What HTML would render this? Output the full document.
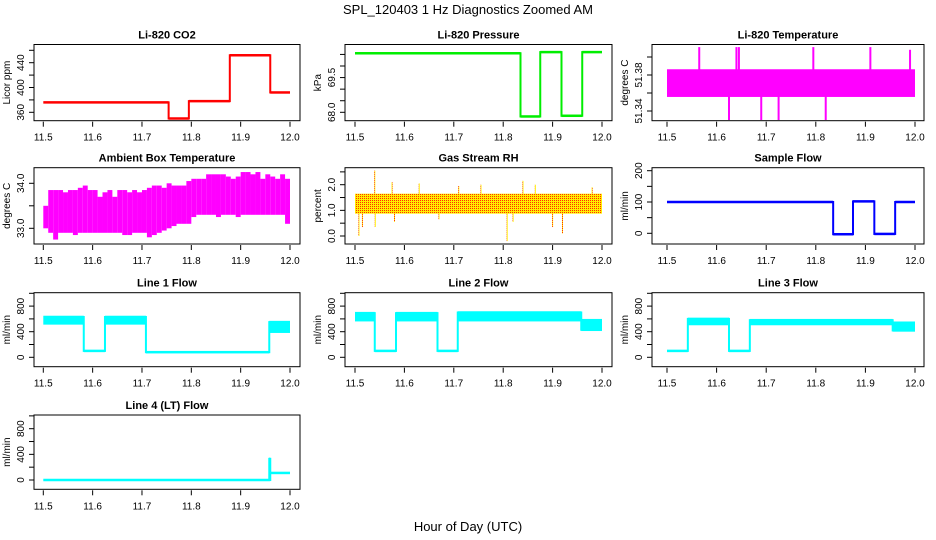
<!DOCTYPE html>
<html><head><meta charset="utf-8"><style>
body{margin:0;background:#fff}
svg{display:block;font-family:"Liberation Sans",sans-serif}
</style></head><body>
<svg id="c" width="936" height="540">
<defs><pattern id="rhpat" width="2" height="2" patternUnits="userSpaceOnUse"><rect width="2" height="2" fill="#ffee00"/><rect width="1" height="1" fill="#ff3000"/></pattern></defs>
<text x="468" y="14" font-size="13" text-anchor="middle">SPL_120403  1 Hz Diagnostics Zoomed AM</text>
<text x="468" y="531" font-size="13" text-anchor="middle">Hour of Day (UTC)</text>
</svg>
<script>
const xTicks=[11.5,11.6,11.7,11.8,11.9,12.0];
// step/band series: start, end, low, high
const co2Start=[11.5,11.754,11.795,11.878,11.96], co2End=[11.754,11.795,11.878,11.96,12.0], co2Lo=[376,350,378,452,392], co2Hi=[376,350,378,452,392];
const presStart=[11.5,11.835,11.875,11.918,11.96], presEnd=[11.835,11.875,11.918,11.96,12.0], presLo=[70.55,67.82,70.6,67.85,70.6], presHi=[70.55,67.82,70.6,67.85,70.6];
const ltStart=[11.5], ltEnd=[12.0], ltLo=[51.357], ltHi=[51.385];
const ltSpikeX=[11.565,11.64,11.645,11.795,11.91,11.99,11.625,11.69,11.725,11.82], ltSpikeV=[51.411,51.411,51.411,51.411,51.411,51.408,51.33,51.33,51.33,51.33];
const ambX=[11.5,11.51,11.52,11.53,11.54,11.55,11.56,11.57,11.58,11.59,11.6,11.61,11.62,11.63,11.64,11.65,11.66,11.67,11.68,11.69,11.7,11.71,11.72,11.73,11.74,11.75,11.76,11.77,11.78,11.79,11.8,11.81,11.82,11.83,11.84,11.85,11.86,11.87,11.88,11.89,11.9,11.91,11.92,11.93,11.94,11.95,11.96,11.97,11.98,11.99];
const ambHi=[33.5,33.85,33.85,33.85,33.8,33.85,33.85,33.9,33.95,33.85,33.85,33.7,33.8,33.85,33.7,33.85,33.85,33.8,33.85,33.8,33.85,33.9,33.95,33.95,33.9,34.0,33.95,33.95,33.95,34.05,34.1,34.1,34.1,34.2,34.2,34.2,34.2,34.15,34.1,34.15,34.25,34.25,34.2,34.25,34.1,34.2,34.15,34.1,34.2,34.1];
const ambLo=[33.0,32.9,32.75,32.9,32.9,32.9,32.85,32.9,32.9,32.9,32.9,32.9,32.9,32.9,32.9,32.9,32.85,32.85,32.9,32.9,32.9,32.8,32.85,32.9,32.95,33.0,33.05,33.1,33.1,33.1,33.25,33.3,33.3,33.3,33.3,33.25,33.3,33.3,33.3,33.25,33.3,33.3,33.3,33.3,33.3,33.3,33.3,33.3,33.3,33.1];
const rhStart=[11.5], rhEnd=[12.0], rhLo=[0.92], rhHi=[1.6];
const rhSpikeX=[11.54,11.575,11.63,11.71,11.755,11.84,11.865,11.98,11.508,11.515,11.541,11.58,11.67,11.808,11.82,11.9,11.92], rhSpikeV=[2.55,2.1,2.05,1.95,2.0,2.15,2.0,1.9,0.0,0.35,0.35,0.55,0.65,-0.2,0.55,0.35,0.1];
const sfStart=[11.5,11.835,11.875,11.918,11.96], sfEnd=[11.835,11.875,11.918,11.96,12.0], sfLo=[100,-3,102,-2,100], sfHi=[100,-3,102,-2,100];
const l1Start=[11.5,11.582,11.625,11.708,11.958], l1End=[11.582,11.625,11.708,11.958,12.0], l1Lo=[530,100,530,80,400], l1Hi=[630,100,630,80,550];
const l2Start=[11.5,11.54,11.583,11.667,11.708,11.958], l2End=[11.54,11.583,11.667,11.708,11.958,12.0], l2Lo=[580,100,580,100,580,430], l2Hi=[690,100,690,100,700,580];
const l3Start=[11.5,11.542,11.625,11.667,11.955], l3End=[11.542,11.625,11.667,11.955,12.0], l3Lo=[100,520,100,520,420], l3Hi=[100,600,100,580,540];
const l4Start=[11.5,11.958,11.96], l4End=[11.958,11.96,12.0], l4Lo=[0,0,110], l4Hi=[0,330,110];
const co2Ticks=[360,380,400,420,440,460], co2Labels=["360","","400","","440",""];
const presTicks=[68.0,68.5,69.0,69.5,70.0,70.5], presLabels=["68.0","","","69.5","",""];
const ltTicks=[51.34,51.36,51.38,51.40], ltLabels=["51.34","","51.38",""];
const ambTicks=[33.0,33.5,34.0], ambLabels=["33.0","","34.0"];
const rhTicks=[0,0.5,1,1.5,2,2.5], rhLabels=["0.0","","1.0","","2.0",""];
const sfTicks=[0,50,100,150,200], sfLabels=["0","","100","","200"];
const flTicks=[0,200,400,600,800,1000], flLabels=["0","","400","","800",""];

const svg=document.getElementById('c'), NS='http://www.w3.org/2000/svg';
function mk(t,a,p){const e=document.createElementNS(NS,t);for(const k in a)e.setAttribute(k,a[k]);(p||svg).appendChild(e);return e;}
const cols=[{l:34,r:300,x0:43.3,x1:290},{l:345,r:612,x0:355,x1:602},{l:652,r:924,x0:667,x1:915}];
const rows=[{t:44.5,b:120.7},{t:167.7,b:244},{t:292.7,b:366.7},{t:415,b:489.3}];
const panels=[
 {c:0,r:0,title:"Li-820 CO2",yt:"Licor ppm",v:[360,112.3,440,62.7],ticks:co2Ticks,labels:co2Labels,col:"#ff0000",s:[co2Start,co2End,co2Lo,co2Hi]},
 {c:1,r:0,title:"Li-820 Pressure",yt:"kPa",v:[68.0,112.3,70.0,66],ticks:presTicks,labels:presLabels,col:"#00ee00",s:[presStart,presEnd,presLo,presHi]},
 {c:2,r:0,title:"Li-820 Temperature",yt:"degrees C",v:[51.34,111,51.38,75],ticks:ltTicks,labels:ltLabels,col:"#ff00ff",s:[ltStart,ltEnd,ltLo,ltHi],spx:ltSpikeX,spv:ltSpikeV,mid:51.37,sw:2},
 {c:0,r:1,title:"Ambient Box Temperature",yt:"degrees C",v:[33,228.3,34,183.3],ticks:ambTicks,labels:ambLabels,col:"#ff00ff",amb:true},
 {c:1,r:1,title:"Gas Stream RH",yt:"percent",v:[0,236,2,184.7],ticks:rhTicks,labels:rhLabels,col:"url(#rhpat)",s:[rhStart,rhEnd,rhLo,rhHi],spx:rhSpikeX,spv:rhSpikeV,mid:1.25,sw:1},
 {c:2,r:1,title:"Sample Flow",yt:"ml/min",v:[0,233.3,200,170.7],ticks:sfTicks,labels:sfLabels,col:"#0000ff",s:[sfStart,sfEnd,sfLo,sfHi]},
 {c:0,r:2,title:"Line 1 Flow",yt:"ml/min",v:[0,357.3,800,306.1],ticks:flTicks,labels:flLabels,col:"#00ffff",s:[l1Start,l1End,l1Lo,l1Hi]},
 {c:1,r:2,title:"Line 2 Flow",yt:"ml/min",v:[0,357.3,800,306.1],ticks:flTicks,labels:flLabels,col:"#00ffff",s:[l2Start,l2End,l2Lo,l2Hi]},
 {c:2,r:2,title:"Line 3 Flow",yt:"ml/min",v:[0,357.3,800,306.1],ticks:flTicks,labels:flLabels,col:"#00ffff",s:[l3Start,l3End,l3Lo,l3Hi]},
 {c:0,r:3,title:"Line 4 (LT) Flow",yt:"ml/min",v:[0,480,800,428.7],ticks:flTicks,labels:flLabels,col:"#00ffff",s:[l4Start,l4End,l4Lo,l4Hi]}
];
panels.forEach((p,i)=>{
 const C=cols[p.c],R=rows[p.r];
 const g=mk('g',{});
 
 
 const X=v=>C.x0+(v-11.5)/0.5*(C.x1-C.x0);
 const Y=v=>p.v[1]+(v-p.v[0])*(p.v[3]-p.v[1])/(p.v[2]-p.v[0]);
 const t=mk('text',{x:(C.l+C.r)/2,y:R.t-6,'font-size':11,'font-weight':'bold','text-anchor':'middle'},g);t.textContent=p.title;
 
 
 const dg=mk('g',{},g);
 
 
 if(p.amb){
  ambX.forEach((x,k)=>{const w=X(x+0.01)-X(x);const y1=Y(ambHi[k]),y2=Y(ambLo[k]);
   const r=mk('rect',{x:X(x),y:y1,width:Math.max(w,1.2),height:y2-y1,fill:p.col},dg);
   
   });
 } else {
  const [st,en,lo,hi]=p.s;let prev=null;
  st.forEach((s,k)=>{const y1=Y(hi[k]),y2=Y(lo[k]);
   const r=mk('rect',{x:X(s),y:y1-1.25,width:X(en[k])-X(s),height:y2-y1+2.5,fill:p.col},dg);
   
   
   if(prev){const a=Math.min(prev[0],y1),b=Math.max(prev[1],y2);
    const v=mk('rect',{x:X(s)-1,y:a-1,width:2,height:b-a+2,fill:p.col},dg);
    
    }
   prev=[y1,y2];});
 }
 if(p.spx){p.spx.forEach((x,k)=>{const a=Y(p.mid),b=Y(p.spv[k]);
   const v=mk('rect',{x:X(x)-p.sw/2,y:Math.min(a,b),width:p.sw,height:Math.abs(a-b),fill:p.col},dg);
   
   });}
 const b=mk('rect',{x:C.l,y:R.t,width:C.r-C.l,height:R.b-R.t,fill:'none',stroke:'#000','stroke-width':1},g);
 
 
 xTicks.forEach(v=>{const x=X(v);mk('line',{x1:x,x2:x,y1:R.b+1,y2:R.b+6,stroke:'#000'},g);
  const tx=mk('text',{x:x,y:R.b+20,'font-size':10,'text-anchor':'middle'},g);tx.textContent=v.toFixed(1);
  
  });
 p.ticks.forEach((v,k)=>{const y=Y(v);mk('line',{x1:C.l-5,x2:C.l,y1:y,y2:y,stroke:'#000'},g);
  if(p.labels[k]){const ty=mk('text',{x:C.l-10,y:y,'font-size':10,'text-anchor':'middle',transform:`rotate(-90 ${C.l-10} ${y})`},g);ty.textContent=p.labels[k];
   
   }});
 const my=(R.t+R.b)/2;
 const yt=mk('text',{x:C.l-24,y:my,'font-size':10,'text-anchor':'middle',transform:`rotate(-90 ${C.l-24} ${my})`},g);yt.textContent=p.yt;
 
 
});
</script>
</body></html>
